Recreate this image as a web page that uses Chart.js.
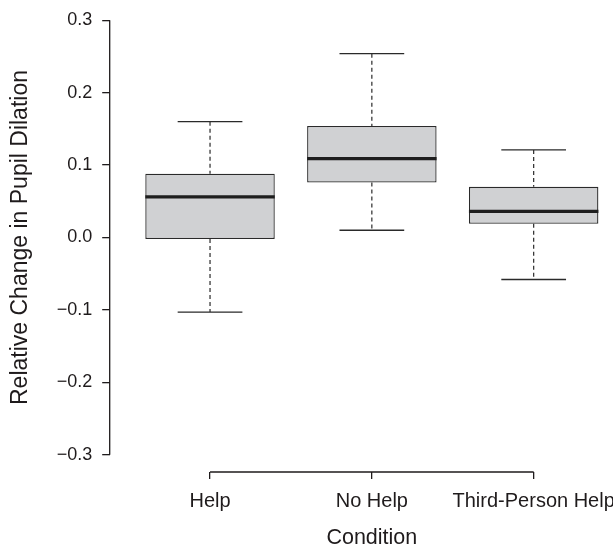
<!DOCTYPE html>
<html>
<head>
<meta charset="utf-8">
<script src="https://cdn.jsdelivr.net/npm/chart.js@4.4.0/dist/chart.umd.min.js"></script>
<style>
html, body { margin: 0; padding: 0; background: #fff; overflow: hidden; }
#wrap { width: 660px; height: 552px; }
</style>
</head>
<body>
<div id="wrap"><canvas id="chart" width="660" height="552"></canvas></div>
<script>
// values
const conditions = ['Help', 'No Help', 'Third-Person Help'];
const whiskerLow = [-0.103, 0.010, -0.058];
const q1 = [-0.002, 0.076, 0.019];
const medians = [0.056, 0.109, 0.036];
const q3 = [0.088, 0.154, 0.070];
const whiskerHigh = [0.160, 0.254, 0.121];
const yTicks = [-0.3, -0.2, -0.1, 0, 0.1, 0.2, 0.3];

const FONT = "'Liberation Sans', Arial, sans-serif";
const INK = '#1f1b1c';

// whiskers, caps, medians and the R-style short axis lines
const boxExtras = {
    id: 'boxExtras',
    afterDatasetsDraw(chart) {
        const { ctx, chartArea, scales: { x, y } } = chart;
        const step = x.getPixelForValue(2) - x.getPixelForValue(1);
        const capHalf = step * 0.2;
        const boxHalf = step * 0.4;
        ctx.save();
        ctx.strokeStyle = '#2a2a2a';
        conditions.forEach((c, i) => {
            const cx = x.getPixelForValue(i + 1);
            ctx.lineWidth = 1.2;
            ctx.setLineDash([4, 3]);
            ctx.beginPath();
            ctx.moveTo(cx, y.getPixelForValue(whiskerHigh[i]));
            ctx.lineTo(cx, y.getPixelForValue(q3[i]));
            ctx.moveTo(cx, y.getPixelForValue(q1[i]));
            ctx.lineTo(cx, y.getPixelForValue(whiskerLow[i]));
            ctx.stroke();
            ctx.setLineDash([]);

            ctx.lineWidth = 1.3;
            ctx.beginPath();
            ctx.moveTo(cx - capHalf, y.getPixelForValue(whiskerHigh[i]));
            ctx.lineTo(cx + capHalf, y.getPixelForValue(whiskerHigh[i]));
            ctx.moveTo(cx - capHalf, y.getPixelForValue(whiskerLow[i]));
            ctx.lineTo(cx + capHalf, y.getPixelForValue(whiskerLow[i]));
            ctx.stroke();

            ctx.lineWidth = 3.2;
            ctx.strokeStyle = '#1e1e1e';
            ctx.beginPath();
            ctx.moveTo(cx - boxHalf, y.getPixelForValue(medians[i]));
            ctx.lineTo(cx + boxHalf, y.getPixelForValue(medians[i]));
            ctx.stroke();
            ctx.strokeStyle = '#2a2a2a';
        });

        ctx.lineWidth = 1.3;
        ctx.strokeStyle = INK;
        ctx.beginPath();
        ctx.moveTo(chartArea.left, y.getPixelForValue(yTicks[yTicks.length - 1]));
        ctx.lineTo(chartArea.left, y.getPixelForValue(yTicks[0]));
        ctx.moveTo(x.getPixelForValue(1), chartArea.bottom);
        ctx.lineTo(x.getPixelForValue(conditions.length), chartArea.bottom);
        ctx.stroke();
        ctx.restore();
    }
};

new Chart(document.getElementById('chart'), {
    type: 'bar',
    data: {
        datasets: [{
            data: conditions.map((c, i) => ({ x: i + 1, y: [q1[i], q3[i]] })),
            backgroundColor: '#d0d1d3',
            borderColor: '#2a2a2a',
            borderWidth: 1.3,
            borderSkipped: false,
            barPercentage: 0.8,
            categoryPercentage: 1
        }]
    },
    options: {
        responsive: false,
        animation: false,
        devicePixelRatio: 1,
        layout: { padding: { top: 3, right: 26, left: 0, bottom: 0 } },
        plugins: { legend: { display: false }, tooltip: { enabled: false } },
        scales: {
            x: {
                type: 'linear',
                offset: false,
                min: 0.38,
                max: 3.62,
                afterBuildTicks: (s) => { s.ticks = conditions.map((c, i) => ({ value: i + 1 })); },
                afterFit: (s) => { s.height = 80; s.paddingLeft = 0; s.paddingRight = 0; },
                border: { display: false },
                grid: { offset: false, drawOnChartArea: false, drawTicks: true, tickLength: 7, color: INK, lineWidth: 1.3 },
                ticks: {
                    autoSkip: false,
                    maxRotation: 0,
                    padding: 10.5,
                    color: INK,
                    font: { family: FONT, size: 20 },
                    callback: (v) => conditions[v - 1]
                },
                title: {
                    display: true,
                    text: 'Condition',
                    color: INK,
                    font: { family: FONT, size: 21.5, lineHeight: 1 },
                    padding: { top: 0, bottom: 3 }
                }
            },
            y: {
                min: -0.324,
                max: 0.324,
                afterBuildTicks: (s) => { s.ticks = yTicks.map(v => ({ value: v })); },
                afterFit: (s) => { s.width = 109.7; s.paddingTop = 0; s.paddingBottom = 0; },
                border: { display: false },
                grid: { drawOnChartArea: false, drawTicks: true, tickLength: 7.5, color: INK, lineWidth: 1.3 },
                ticks: {
                    padding: 10,
                    color: INK,
                    font: { family: FONT, size: 18 },
                    callback: (v) => (v < 0 ? '\u2212' : '') + Math.abs(v).toFixed(1)
                },
                title: {
                    display: true,
                    text: 'Relative Change in Pupil Dilation',
                    color: INK,
                    font: { family: FONT, size: 23 },
                    padding: { top: 6.5, bottom: 0 }
                }
            }
        }
    },
    plugins: [boxExtras]
});
</script>
</body>
</html>
